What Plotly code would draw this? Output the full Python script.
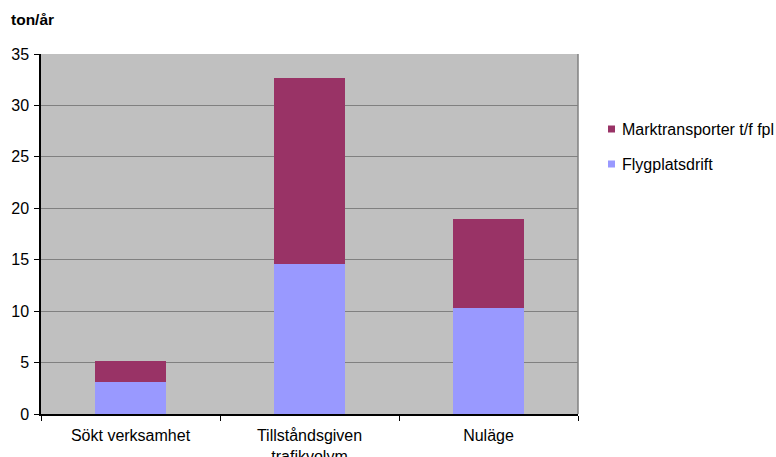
import plotly.graph_objects as go

# Emissions per scenario, ton/år
categories = ["Sökt verksamhet", "Tillståndsgiven<br>trafikvolym", "Nuläge"]
flygplatsdrift = [3.1, 14.6, 10.3]
marktransporter = [2.1, 18.1, 8.7]

series_names = ["Flygplatsdrift", "Marktransporter t/f fpl"]
series_colors = ["#9999FF", "#993366"]

FONT = "Liberation Sans, Arial, sans-serif"
W, H = 776, 457
L, R, T, B = 41, 198, 54, 43
plot_w = W - L - R
plot_h = H - T - B

fig = go.Figure()
for name, vals, col in zip(series_names, [flygplatsdrift, marktransporter], series_colors):
    fig.add_trace(go.Bar(
        x=categories, y=vals, name=name,
        marker=dict(color=col, line=dict(width=0)),
        width=0.4, showlegend=False,
    ))


def px_x(p):
    return (p - L) / plot_w


def px_y(p):
    return (H - B - p) / plot_h


shapes = [
    # right border of the plot area
    dict(type="line", xref="paper", yref="paper", x0=1, x1=1, y0=0, y1=1,
         line=dict(color="#808080", width=1.5)),
]
annotations = [
    dict(text="<b>ton/år</b>", xref="paper", yref="paper",
         x=px_x(9), y=px_y(20), xanchor="left", yanchor="middle",
         showarrow=False, font=dict(family=FONT, size=15.5, color="#000000")),
]

# legend entries, listed top to bottom in reverse stacking order
legend_rows = [(series_names[1], series_colors[1], 129), (series_names[0], series_colors[0], 164)]
for name, col, yc in legend_rows:
    shapes.append(dict(type="rect", xref="paper", yref="paper",
                       x0=px_x(608), x1=px_x(615), y0=px_y(yc + 3.5), y1=px_y(yc - 3.5),
                       fillcolor=col, line=dict(width=0)))
    annotations.append(dict(text=name, xref="paper", yref="paper",
                            x=px_x(620), y=px_y(yc), xanchor="left", yanchor="middle",
                            showarrow=False, font=dict(family=FONT, size=16, color="#000000")))

fig.update_layout(
    barmode="stack",
    width=W, height=H,
    margin=dict(l=L, r=R, t=T, b=B, pad=0),
    paper_bgcolor="#FFFFFF",
    plot_bgcolor="#C0C0C0",
    font=dict(family=FONT, size=16, color="#000000"),
    showlegend=False,
    shapes=shapes,
    annotations=annotations,
    xaxis=dict(
        automargin=False,
        showgrid=False, showline=True, linecolor="#000000", linewidth=1.5,
        ticks="outside", tickson="boundaries", ticklen=5, tickcolor="#000000",
        ticklabelstandoff=6,
        tickfont=dict(family=FONT, size=16), zeroline=False,
    ),
    yaxis=dict(
        automargin=False,
        range=[0, 35], dtick=5, showgrid=True, gridcolor="#808080", gridwidth=1,
        showline=True, linecolor="#000000", linewidth=1.5, zeroline=False,
        ticks="outside", ticklen=5, tickcolor="#000000", ticklabelstandoff=2,
        tickfont=dict(family=FONT, size=16),
    ),
)

fig.write_html("out.html")
